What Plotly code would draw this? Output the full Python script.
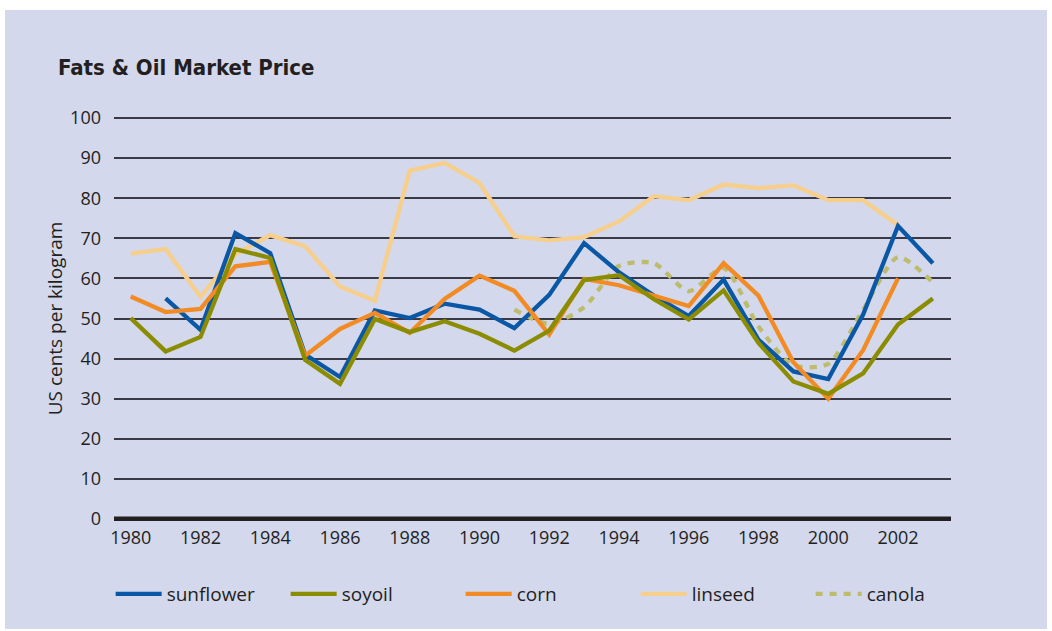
import plotly.graph_objects as go

years = list(range(1980, 2004))

sunflower = [None, 55, 47.2, 71.3, 66.3, 41, 35.4, 52, 50.1, 53.7, 52.2, 47.6, 55.9, 68.8,
             61.5, 55.7, 50.6, 59.7, 44.7, 36.8, 34.9, 51, 73.1, 63.8]
soyoil = [50.1, 41.8, 45.4, 67.3, 65.1, 39.7, 33.7, 49.9, 46.6, 49.3, 46.2, 42.0, 47.0, 59.6,
          60.8, 54.8, 49.8, 57.0, 43.9, 34.3, 31.2, 36.3, 48.5, 55.0]
corn = [55.5, 51.6, 52.4, 63.0, 64.1, 40.7, 47.4, 51.4, 46.4, 54.9, 60.7, 56.9, 46.0, 59.9,
        58.3, 55.7, 53.1, 63.8, 55.7, 39.1, 30.0, 42.1, 60.0, None]
linseed = [66.2, 67.3, 55.4, 66.0, 70.8, 68.0, 58.0, 54.4, 86.9, 88.8, 83.8, 70.5, 69.5, 70.3,
           74.2, 80.5, 79.5, 83.4, 82.5, 83.2, 79.5, 79.5, 73.3, None]
canola = [None] * 11 + [52.2, 48.7, 52.8, 63.1, 63.8, 56.8, 62.6, 48.0, 38.3, 38.7, 52.2, 65.3, 59.0]

series_names = ["sunflower", "soyoil", "corn", "linseed", "canola"]
colors = {"sunflower": "#0a58a5", "soyoil": "#8b8c00", "corn": "#f28b24",
          "linseed": "#f6cf8c", "canola": "#bcbc6c"}
legend_rank = {n: i + 1 for i, n in enumerate(series_names)}
data = {"sunflower": sunflower, "soyoil": soyoil, "corn": corn,
        "linseed": linseed, "canola": canola}

x_ticks = list(range(1980, 2003, 2))
y_ticks = list(range(0, 101, 10))

panel = "#d3d8ec"
ink = "#231f20"
font_main = "Open Sans, Lato, DejaVu Sans, sans-serif"

fig = go.Figure()
draw_order = ["linseed", "canola", "sunflower", "corn", "soyoil"]
for name in draw_order:
    is_canola = name == "canola"
    fig.add_trace(go.Scatter(
        x=years, y=data[name], name=name, mode="lines",
        legendrank=legend_rank[name],
        line=dict(color=colors[name], width=4.3,
                  dash="7px,7px" if is_canola else "solid",
                  shape="spline" if is_canola else "linear",
                  smoothing=0.7 if is_canola else None),
        connectgaps=False,
    ))

W, H = 1052, 631
L, R, T, B = 114, 101, 116, 110
pw, ph = W - L - R, H - T - B

# panel background (white frame around)
fig.add_shape(type="rect", xref="paper", yref="paper", layer="below",
              x0=(5 - L) / pw, x1=(1047 - L) / pw,
              y0=(H - B - 629) / ph, y1=(H - B - 10) / ph,
              fillcolor=panel, line=dict(width=0))
# thick zero baseline
fig.add_shape(type="line", xref="paper", yref="y", x0=0, x1=1, y0=0, y1=0,
              line=dict(color=ink, width=5))

fig.update_layout(
    width=W, height=H,
    margin=dict(l=L, r=R, t=T, b=B, pad=0, autoexpand=False),
    paper_bgcolor="white", plot_bgcolor=panel,
    font=dict(family=font_main, color=ink, size=18),
    title=dict(text="<b>Fats & Oil Market Price</b>",
               font=dict(family="Liberation Sans Narrow, DejaVu Sans Condensed, Roboto, sans-serif",
                         size=22, color=ink),
               x=58 / W, xanchor="left", xref="container",
               y=1 - 67 / H, yanchor="middle", yref="container"),
    xaxis=dict(range=[1979.52, 2003.52], tickmode="array", tickvals=x_ticks,
               showgrid=False, zeroline=False, showline=False,
               ticks="", ticklabelstandoff=4,
               tickfont=dict(size=18, color=ink)),
    yaxis=dict(range=[-0.5, 100.5], tickmode="array", tickvals=y_ticks,
               showgrid=True, gridcolor="#3a3a46", gridwidth=1.6,
               zeroline=False, showline=False, ticks="",
               ticklabelstandoff=12,
               tickfont=dict(size=18, color=ink),
               title=dict(text="US cents per kilogram", standoff=2,
                          font=dict(size=19, color=ink))),
    legend=dict(orientation="h", x=-0.004, xanchor="left",
                y=-(594 - (H - B)) / ph, yanchor="middle",
                bgcolor="rgba(0,0,0,0)", itemwidth=46,
                entrywidth=114, entrywidthmode="pixels",
                font=dict(size=19, color=ink), traceorder="normal"),
    showlegend=True,
)

fig.write_html("out.html", config={"displayModeBar": False},
               post_script="document.body.style.margin='0';")
